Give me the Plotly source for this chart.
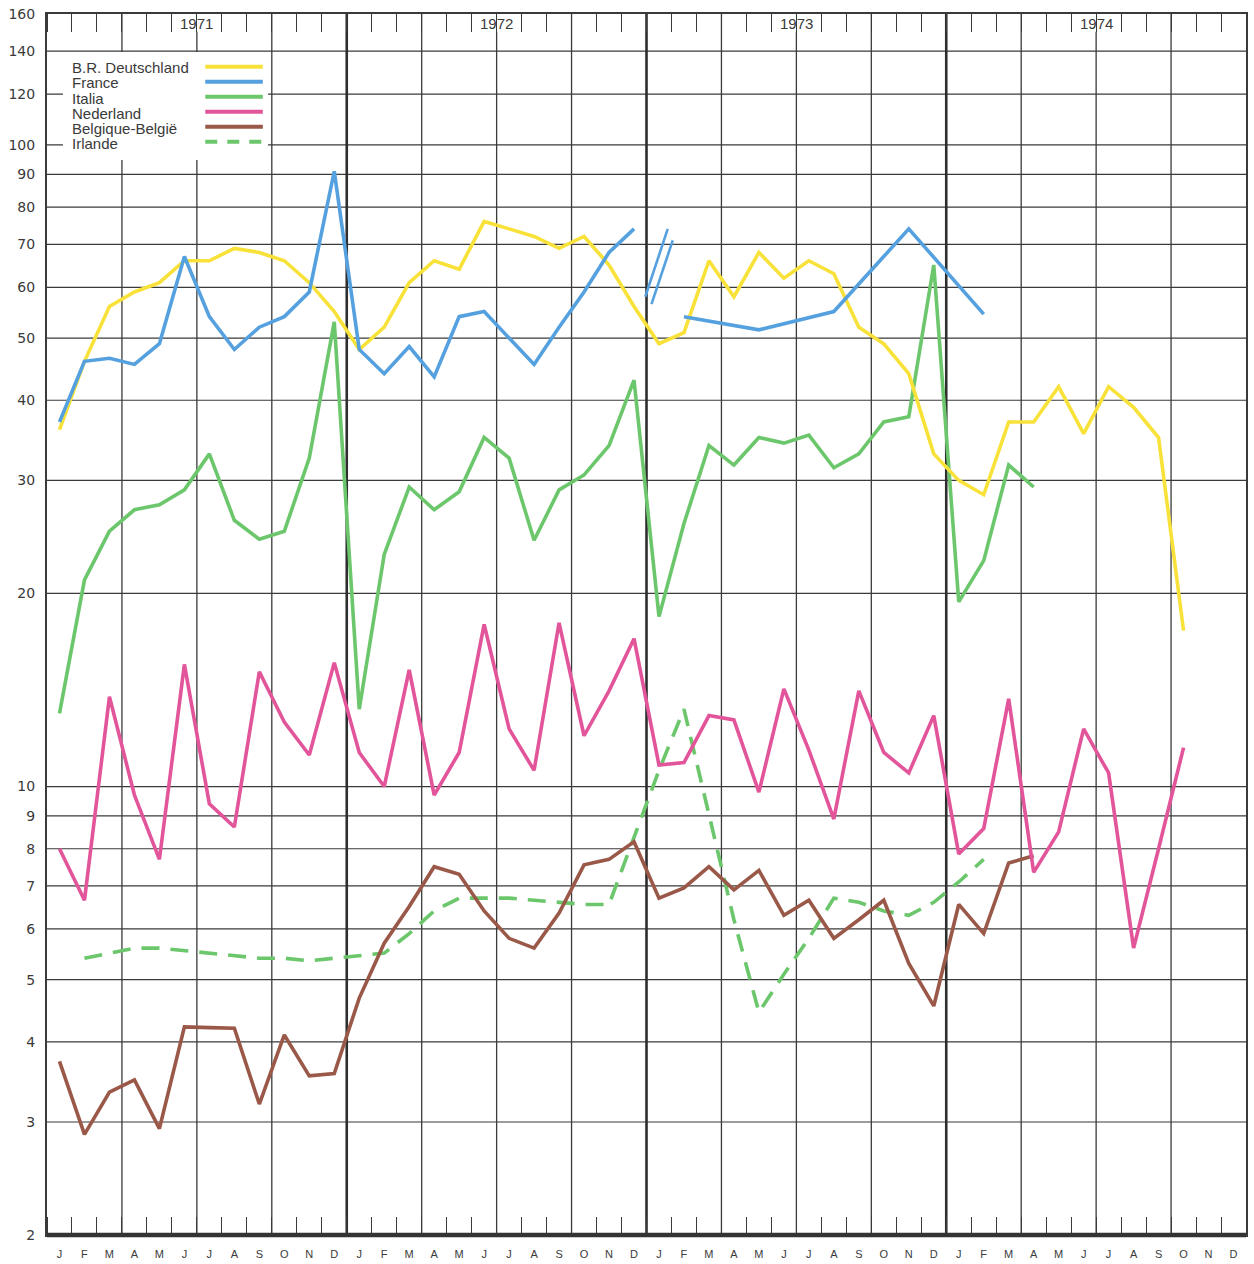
import plotly.graph_objects as go

# ---- calendar / axis values -------------------------------------------------
MONTH_LETTERS = ["J", "F", "M", "A", "M", "J", "J", "A", "S", "O", "N", "D"]
YEARS = [1971, 1972, 1973, 1974]
Y_TICKS = [2, 3, 4, 5, 6, 7, 8, 9, 10, 20, 30, 40, 50, 60, 70, 80, 90,
           100, 120, 140, 160]

# ---- monthly series (Jan 1971 .. Dec 1974), None = no figure -----------------
deutschland = [36, 46, 56, 59, 61, 66, 66, 69, 68, 66, 61, 55,
               48, 52, 61, 66, 64, 76, 74, 72, 69, 72, 65, 56,
               49, 51, 66, 58, 68, 62, 66, 63, 52, 49, 44, 33,
               30, 28.5, 37, 37, 42, 35.5, 42, 39, 35, 17.5, None, None]

france = [37, 46, 46.5, 45.5, 49, 67, 54, 48, 52, 54, 59, 91,
          48, 44, 48.5, 43.5, 54, 55, 50, 45.5, 52, 59, 68, 74,
          None, 54, None, None, 51.5, None, None, 55, None, None, 74, None,
          None, 54.5, None, None, None, None, None, None, None, None, None, None]

# break marks drawn in the France series around the turn of 1972/73
france_break_a_x = [23.95, 24.85]
france_break_a_y = [58.0, 74.0]
france_break_b_x = [24.2, 25.05]
france_break_b_y = [56.5, 71.0]

italia = [13, 21, 25, 27, 27.5, 29, 33, 26, 24.3, 25, 32.5, 53,
          13.2, 23, 29.3, 27, 28.8, 35, 32.5, 24.2, 29, 30.6, 34, 43,
          18.4, 25.7, 34, 31.7, 35, 34.3, 35.3, 31.4, 33, 37, 37.7, 65,
          19.4, 22.5, 31.7, 29.3, None, None, None, None, None, None, None, None]

nederland = [8, 6.65, 13.8, 9.7, 7.7, 15.5, 9.4, 8.65, 15.1, 12.6, 11.2, 15.6,
             11.3, 10, 15.2, 9.7, 11.3, 17.9, 12.3, 10.6, 18, 12, 14.1, 17,
             10.8, 10.9, 12.9, 12.7, 9.8, 14.2, 11.4, 8.9, 14.1, 11.3, 10.5, 12.9,
             7.85, 8.6, 13.7, 7.35, 8.5, 12.3, 10.5, 5.6, 8.0, 11.5, None, None]

belgique = [3.73, 2.87, 3.34, 3.49, 2.93, 4.22, 4.21, 4.2, 3.2, 4.1, 3.54, 3.57,
            4.68, 5.7, 6.5, 7.5, 7.3, 6.4, 5.8, 5.6, 6.35, 7.55, 7.7, 8.2,
            6.7, 6.95, 7.5, 6.9, 7.4, 6.3, 6.65, 5.8, 6.2, 6.65, 5.3, 4.55,
            6.55, 5.9, 7.6, 7.8, None, None, None, None, None, None, None, None]

irlande = [None, 5.4, 5.5, 5.6, 5.6, 5.55, 5.5, 5.45, 5.4, 5.4, 5.35, 5.4,
           5.45, 5.5, 5.9, 6.4, 6.7, 6.7, 6.7, 6.65, 6.6, 6.55, 6.55, 8.3,
           10.6, 13.2, 9.0, 6.2, 4.45, 5.1, 5.8, 6.7, 6.6, 6.4, 6.3, 6.6,
           7.1, 7.7, None, None, None, None, None, None, None, None, None, None]

SERIES_NAMES = ["B.R. Deutschland", "France", "Italia", "Nederland",
                "Belgique-België", "Irlande"]

# ---- styles -----------------------------------------------------------------
C_DE = "#f8e23a"
C_FR = "#55a1df"
C_IT = "#6cc76c"
C_NL = "#e2559a"
C_BE = "#9a5849"
C_IE = "#6cc76c"
INK = "#3a3a3a"
LW = 3.6
IE_DASH = "18px,11px"
FONT = "Liberation Sans, Arial, sans-serif"

n_months = 12 * len(YEARS)
centers = [i + 0.5 for i in range(n_months)]

fig = go.Figure()


def add_line(x, y, color, dash="solid", connect=False):
    fig.add_trace(go.Scatter(
        x=x, y=y, mode="lines", connectgaps=connect,
        line=dict(color=color, width=LW, dash=dash),
        showlegend=False, hoverinfo="skip"))


add_line(centers, irlande, C_IE, IE_DASH)
add_line(centers, belgique, C_BE)
add_line(centers, nederland, C_NL)
add_line(centers, italia, C_IT)
add_line(centers, deutschland, C_DE)
add_line(centers[:24], france[:24], C_FR)
add_line(centers[24:], france[24:], C_FR, connect=True)
fig.add_trace(go.Scatter(x=france_break_a_x, y=france_break_a_y, mode="lines",
                         line=dict(color=C_FR, width=2.6),
                         showlegend=False, hoverinfo="skip"))
fig.add_trace(go.Scatter(x=france_break_b_x, y=france_break_b_y, mode="lines",
                         line=dict(color=C_FR, width=2.6),
                         showlegend=False, hoverinfo="skip"))

shapes = []
# horizontal grid at every labelled value
for v in Y_TICKS[1:-1]:
    shapes.append(dict(type="line", xref="x domain", yref="y", x0=0, x1=1,
                       y0=v, y1=v, layer="below",
                       line=dict(color=INK, width=1.2)))
# quarter lines (Jul lines stop below the year label)
for q in range(3, n_months, 3):
    if q % 12 == 0:
        continue
    top = 0.9855 if q % 12 == 6 else 1
    shapes.append(dict(type="line", xref="x", yref="y domain", x0=q, x1=q,
                       y0=0, y1=top, layer="below",
                       line=dict(color=INK, width=1.3)))
# year boundaries
for k in range(1, len(YEARS)):
    shapes.append(dict(type="line", xref="x", yref="y domain", x0=12 * k,
                       x1=12 * k, y0=0, y1=1, layer="below",
                       line=dict(color="#2e2e2e", width=2.6)))
# legend panel
shapes.append(dict(type="rect", xref="x domain", yref="y domain",
                   x0=0.0133, x1=0.1843, y0=0.8804, y1=0.9689,
                   layer="below", fillcolor="white", line=dict(width=0)))
# heavy base line
shapes.append(dict(type="line", xref="x domain", yref="y domain", x0=0, x1=1,
                   y0=0, y1=0, layer="above",
                   line=dict(color="#333333", width=4.5)))

# legend entries: label on the left, swatch on the right
row_y = [0.9558, 0.9435, 0.9312, 0.9189, 0.9066, 0.8943]
swatch_style = [(C_DE, "solid"), (C_FR, "solid"), (C_IT, "solid"),
                (C_NL, "solid"), (C_BE, "solid"), (C_IE, "12px,10px")]
annotations = []
for name, yy, (col, dsh) in zip(SERIES_NAMES, row_y, swatch_style):
    annotations.append(dict(text=name, xref="x domain", yref="y domain",
                            x=0.0195, y=yy, xanchor="left", yanchor="middle",
                            showarrow=False,
                            font=dict(family=FONT, size=15, color=INK)))
    shapes.append(dict(type="line", xref="x domain", yref="y domain",
                       x0=0.132, x1=0.180, y0=yy + 0.001, y1=yy + 0.001,
                       layer="above",
                       line=dict(color=col, width=4, dash=dsh)))

# year labels at the top, centred on the July line
for k, yr in enumerate(YEARS):
    annotations.append(dict(text=str(yr), xref="x", yref="y domain",
                            x=12 * k + 6, y=0.9925, xanchor="center",
                            yanchor="middle", showarrow=False,
                            font=dict(family=FONT, size=15, color=INK)))

fig.update_layout(
    width=1254, height=1264, autosize=False,
    margin=dict(l=47, r=8, t=14, b=29),
    paper_bgcolor="white", plot_bgcolor="white",
    shapes=shapes, annotations=annotations, showlegend=False,
    xaxis=dict(
        range=[0, n_months], showgrid=False, zeroline=False,
        automargin=False,
        tickmode="array", tickvals=centers,
        ticktext=MONTH_LETTERS * len(YEARS), ticks="",
        ticklabelstandoff=8,
        tickfont=dict(family=FONT, size=11, color=INK),
        showline=True, linecolor=INK, linewidth=2, mirror="ticks",
        minor=dict(tick0=0, dtick=1, ticks="inside", ticklen=18,
                   tickwidth=1.2, tickcolor=INK, showgrid=False),
    ),
    yaxis=dict(
        type="log", range=[0.30103, 2.20412], automargin=False,
        tickmode="array", tickvals=Y_TICKS,
        ticktext=[str(v) for v in Y_TICKS], ticks="",
        ticklabelstandoff=7,
        tickfont=dict(family="DejaVu Sans, sans-serif", size=14, color=INK),
        showgrid=False, zeroline=False,
        showline=True, linecolor=INK, linewidth=2, mirror=True,
    ),
)

fig.write_html("out.html")
